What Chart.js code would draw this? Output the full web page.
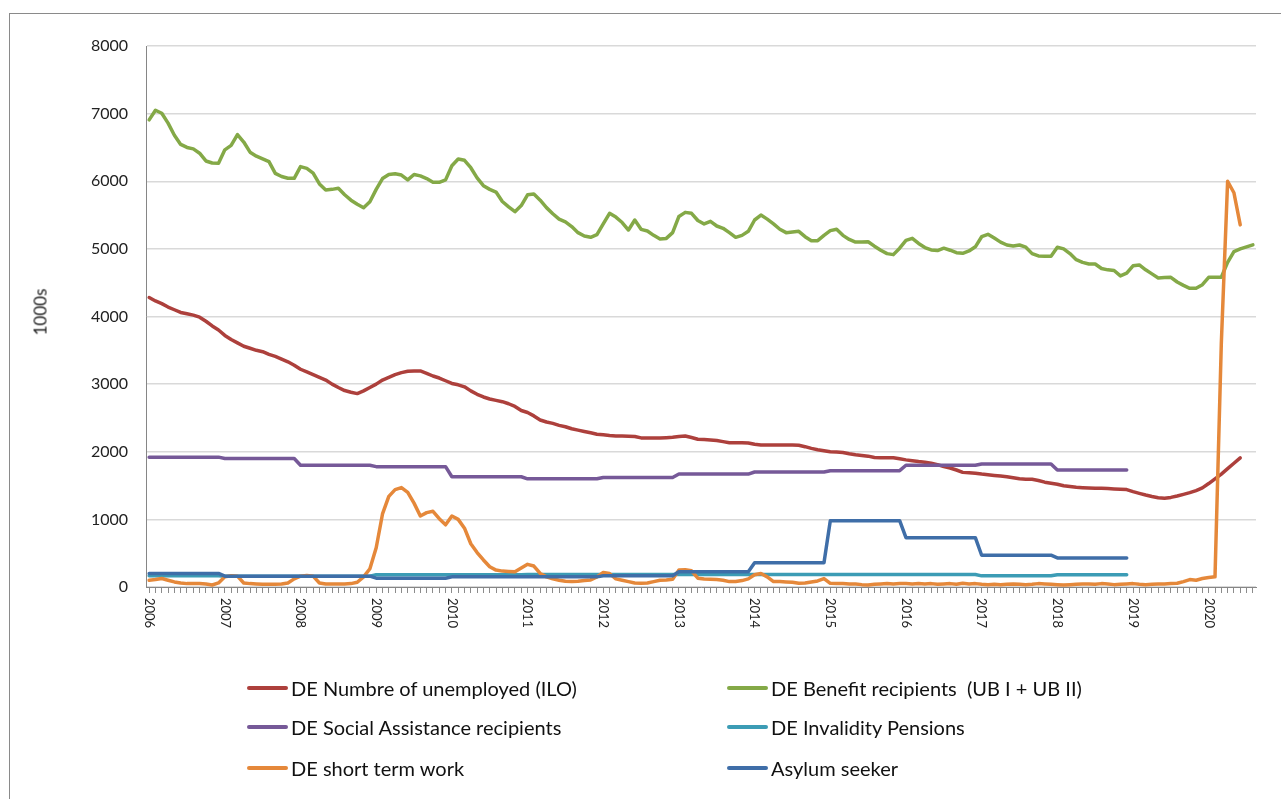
<!DOCTYPE html>
<html>
<head>
<meta charset="utf-8">
<script src="https://cdn.jsdelivr.net/npm/chart.js@4.4.1/dist/chart.umd.min.js"></script>
<style>
  html, body { margin: 0; padding: 0; background: #fff; overflow: hidden; }
  #frame { position: absolute; left: 9px; top: 13px; width: 1300px; height: 820px; border: 1px solid #8a8a8a; box-sizing: border-box; }
  #wrap { position: absolute; left: 0; top: 0; width: 1281px; height: 799px; }
  #ytitle { position: absolute; left: 40px; top: 312px; transform: translate(-50%, -50%) rotate(-90deg);
            font: 17px Lato, sans-serif; color: #222; white-space: nowrap; }
  .leg { position: absolute; font: 20px Lato, sans-serif; color: #111; display: flex; align-items: center;
         white-space: pre; transform: translateY(-50%); }
  .leg i { display: inline-block; width: 41px; height: 4px; border-radius: 2px; margin-right: 3px; }
</style>
</head>
<body>
<div id="frame"></div>
<div id="wrap"><canvas id="chart"></canvas></div>
<div id="ytitle">1000s</div>
<div id="legend"></div>
<script>
// Monthly axis: January 2006 to August 2020
const years = [2006, 2007, 2008, 2009, 2010, 2011, 2012, 2013, 2014, 2015, 2016, 2017, 2018, 2019, 2020];
const monthsInLastYear = 8;

// DE Numbre of unemployed (ILO), 1000s, Jan 2006 - Jun 2020
const unemployedILO = [
  4280, 4230, 4190, 4140, 4100, 4060, 4040, 4020, 3990, 3930, 3860, 3800,
  3720, 3660, 3610, 3560, 3530, 3500, 3480, 3440, 3410, 3370, 3330, 3280,
  3220, 3180, 3140, 3100, 3060, 3000, 2950, 2905, 2880, 2860, 2900, 2950,
  3000, 3060, 3100, 3140, 3170, 3190, 3195, 3195, 3160, 3120, 3090, 3050,
  3010, 2990, 2960, 2900, 2850, 2810, 2780, 2760, 2740, 2710, 2670, 2610,
  2580, 2530, 2470, 2440, 2420, 2390, 2370, 2340, 2320, 2300, 2280, 2260,
  2250, 2240, 2233, 2233, 2230, 2225, 2205, 2205, 2205, 2205, 2208, 2213,
  2225, 2233, 2210, 2185, 2180, 2175, 2165, 2150, 2134, 2134, 2134, 2130,
  2110, 2100, 2100, 2100, 2100, 2100, 2100, 2095, 2075, 2050, 2030, 2015,
  2000, 1995, 1988, 1970, 1955, 1945, 1935, 1915, 1910, 1910, 1910, 1895,
  1880, 1868, 1855, 1845, 1830, 1810, 1780, 1760, 1730, 1695, 1690, 1683,
  1670, 1660, 1650, 1640, 1630, 1615, 1600, 1595, 1592, 1575, 1550, 1535,
  1520, 1497, 1485, 1475, 1469, 1465, 1462, 1460, 1455, 1450, 1446, 1440,
  1410, 1385, 1360, 1338, 1320, 1311, 1325, 1346, 1370, 1395, 1425, 1465,
  1530, 1600, 1670, 1750, 1830, 1910
];

// DE Benefit recipients (UB I + UB II), 1000s, Jan 2006 - Aug 2020
const benefitRecipients = [
  6908, 7050, 7006, 6860, 6680, 6545, 6500, 6479, 6415, 6300, 6270, 6267,
  6464, 6530, 6690, 6580, 6430, 6370, 6330, 6290, 6117, 6070, 6045, 6043,
  6216, 6190, 6120, 5960, 5870, 5880, 5895, 5800, 5720, 5660, 5609, 5697,
  5880, 6040, 6100, 6110, 6092, 6020, 6100, 6080, 6040, 5985, 5985, 6020,
  6230, 6330, 6310, 6200, 6050, 5934, 5880, 5840, 5700, 5620, 5550, 5640,
  5800, 5810, 5720, 5610, 5520, 5440, 5400, 5330, 5240, 5190, 5171, 5210,
  5370, 5526, 5470, 5390, 5279, 5427, 5289, 5264, 5200, 5146, 5155, 5240,
  5480, 5540, 5526, 5420, 5368, 5407, 5338, 5304, 5240, 5171, 5200, 5260,
  5427, 5500, 5440, 5370, 5290, 5240, 5250, 5259, 5180, 5120, 5121, 5200,
  5270, 5290, 5200, 5140, 5100, 5100, 5106, 5040, 4980, 4930, 4915, 5010,
  5125, 5156, 5080, 5020, 4985, 4975, 5010, 4980, 4944, 4935, 4970, 5030,
  5180, 5215, 5160, 5100, 5057, 5042, 5057, 5025, 4930, 4895, 4890, 4890,
  5023, 5000, 4930, 4840, 4800, 4777, 4777, 4710, 4690, 4680, 4600, 4640,
  4750, 4762, 4690, 4630, 4570, 4575, 4580, 4510, 4460, 4417, 4417, 4470,
  4580, 4580, 4580, 4800, 4960, 5000, 5030, 5060
];

// DE short term work, 1000s, Jan 2006 - Jun 2020
const shortTermWork = [
  100, 110, 125, 100, 75, 60, 50, 50, 50, 45, 30, 60,
  150, 165, 160, 60, 50, 45, 40, 40, 40, 45, 60, 120,
  160, 170, 160, 60, 45, 45, 45, 45, 50, 70, 150, 270,
  580, 1080, 1340, 1440, 1470, 1400, 1240, 1050, 1100, 1120, 1010, 920,
  1050, 1000, 870, 640, 510, 400, 300, 250, 235, 230, 225, 280,
  335, 310, 200, 150, 120, 100, 85, 80, 85, 95, 105, 150,
  215, 200, 120, 100, 80, 60, 55, 60, 80, 100, 105, 115,
  250, 255, 240, 130, 120, 115, 110, 100, 80, 80, 95, 120,
  180, 200, 150, 80, 80, 75, 70, 55, 60, 75, 90, 125,
  55, 50, 50, 45, 45, 35, 30, 40, 45, 50, 45, 50,
  50, 45, 50, 45, 50, 40, 45, 50, 40, 55, 45, 50,
  40, 35, 40, 35, 40, 45, 40, 35, 40, 50, 45, 40,
  35, 30, 35, 40, 45, 45, 40, 50, 45, 35, 40, 45,
  50, 40, 35, 40, 45, 45, 50, 55, 80, 110, 100, 125,
  140, 150, 3600, 6000, 5830, 5355
];

// Yearly figures, 2006 - 2018 (each year's value holds for all its months)
const annualYears = [2006, 2007, 2008, 2009, 2010, 2011, 2012, 2013, 2014, 2015, 2016, 2017, 2018];
const socialAssistance = [1920, 1900, 1800, 1780, 1630, 1600, 1620, 1670, 1700, 1720, 1800, 1820, 1730];
const invalidityPensions = [165, 160, 160, 180, 180, 185, 185, 185, 185, 185, 185, 165, 180];
const asylumSeekers = [200, 160, 160, 130, 150, 150, 165, 225, 360, 980, 730, 470, 430];

// Category labels "YYYY-MM"
const monthLabels = [];
years.forEach((y, yi) => {
  const n = yi === years.length - 1 ? monthsInLastYear : 12;
  for (let m = 1; m <= n; m++) monthLabels.push(y + '-' + String(m).padStart(2, '0'));
});
const perMonth = annual => annual.flatMap(v => new Array(12).fill(v));

const series = [
  { label: 'DE Numbre of unemployed (ILO)', data: unemployedILO, color: '#ad403c', order: 5 },
  { label: 'DE Benefit recipients  (UB I + UB II)', data: benefitRecipients, color: '#84a947', order: 4 },
  { label: 'DE Social Assistance recipients', data: perMonth(socialAssistance), color: '#765998', order: 3 },
  { label: 'DE Invalidity Pensions', data: perMonth(invalidityPensions), color: '#3c9cb5', order: 2 },
  { label: 'DE short term work', data: shortTermWork, color: '#e5883a', order: 1 },
  { label: 'Asylum seeker', data: perMonth(asylumSeekers), color: '#3f6ea8', order: 0 }
];

// Legend in two columns
const legendSlots = [[247, 688], [727, 688], [247, 727], [727, 727], [247, 768], [727, 768]];
const legendEl = document.getElementById('legend');
series.forEach((s, i) => {
  const d = document.createElement('div');
  d.className = 'leg';
  d.style.left = legendSlots[i][0] + 'px';
  d.style.top = legendSlots[i][1] + 'px';
  d.innerHTML = '<i style="background:' + s.color + '"></i><span></span>';
  d.querySelector('span').textContent = s.label;
  legendEl.appendChild(d);
});

// Year labels under the axis, turned a quarter clockwise
const yearLabels = {
  id: 'yearLabels',
  afterDraw(chart) {
    const xs = chart.scales.x;
    const ctx = chart.ctx;
    ctx.save();
    ctx.font = '13px Lato, sans-serif';
    ctx.fillStyle = '#222';
    ctx.textAlign = 'left';
    ctx.textBaseline = 'middle';
    monthLabels.forEach((lab, i) => {
      if (!lab.endsWith('-01')) return;
      ctx.save();
      ctx.translate(xs.getPixelForValue(i), xs.top + 11);
      ctx.rotate(Math.PI / 2);
      ctx.fillText(lab.slice(0, 4), 0, 0);
      ctx.restore();
    });
    ctx.restore();
  }
};

function draw() {
  new Chart(document.getElementById('chart'), {
    type: 'line',
    data: {
      labels: monthLabels,
      datasets: series.map(s => ({
        label: s.label,
        data: s.data,
        borderColor: s.color,
        backgroundColor: s.color,
        borderWidth: 3.5,
        pointRadius: 0,
        tension: 0,
        borderJoinStyle: 'round',
        borderCapStyle: 'round',
        fill: false,
        order: s.order
      }))
    },
    options: {
      responsive: true,
      maintainAspectRatio: false,
      animation: false,
      layout: { padding: { top: 46, right: 25, bottom: 0, left: 0 } },
      plugins: { legend: { display: false }, tooltip: { enabled: false } },
      scales: {
        x: {
          type: 'category',
          offset: true,
          grid: { drawOnChartArea: false, drawTicks: true, tickLength: 6, color: '#8c8c8c', lineWidth: 1 },
          border: { color: '#868686', width: 1 },
          ticks: { display: false, autoSkip: false },
          afterFit(s) { s.height = 212; }
        },
        y: {
          min: 0,
          max: 8000,
          ticks: { stepSize: 1000, padding: 18, color: '#222', font: { family: 'Lato', size: 16 },
                   callback: v => String(v) },
          grid: { color: '#d9d9d9', lineWidth: 1.5, drawTicks: false },
          border: { color: '#868686', width: 1 },
          afterFit(s) { s.width = 146; }
        }
      }
    },
    plugins: [yearLabels]
  });
}

Promise.all([
  document.fonts.load('16px Lato'),
  document.fonts.load('13px Lato'),
  document.fonts.load('20px Lato')
]).then(draw, draw);
</script>
</body>
</html>
